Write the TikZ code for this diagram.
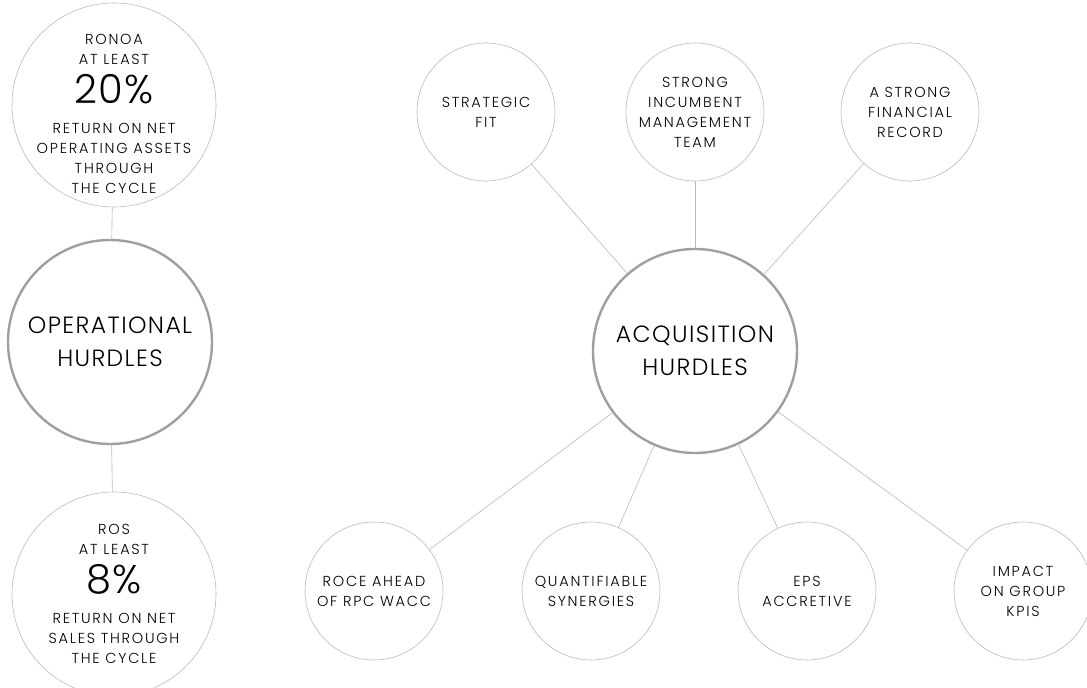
\documentclass[tikz,border=0pt]{standalone}
\usepackage{fontspec}
\setmainfont{Poppins}[UprightFont=* Light, LetterSpace=6]
\newfontfamily\smallface{Poppins}[UprightFont=* Light, LetterSpace=12]
\newfontfamily\pctface{Poppins}[UprightFont=* Light, LetterSpace=2]
\newcommand{\pct}[1]{{\pctface\fontsize{40}{44}\selectfont #1}}

\begin{document}
\begin{tikzpicture}[x=1pt,y=-1pt,
  hurdle/.style={circle,draw=gray!75,line width=2.4pt,minimum size=204pt,inner sep=0pt,align=center,font=\fontsize{23.5}{33}\selectfont},
  goal/.style={circle,draw=gray!55,line width=0.6pt,minimum size=138pt,inner sep=0pt,align=center,font=\smallface\fontsize{14.5}{20}\selectfont},
  target/.style={goal,minimum size=204pt,inner sep=-40pt},
  link/.style={draw=gray!55,line width=0.6pt}]
  \useasboundingbox (0,0) rectangle (1087,688);

  % operational side
  \node[target] (ronoa) at (114,105) {\rule{0pt}{28pt}RONOA\\AT LEAST\\[9pt]\pct{20\%}\\[10pt]RETURN ON NET\\OPERATING ASSETS\\THROUGH\\THE CYCLE};
  \node[hurdle] (ops) at (110,342) {OPERATIONAL\\HURDLES};
  \node[target] (ros) at (114,594) {ROS\\AT LEAST\\[9pt]\pct{8\%}\\[10pt]RETURN ON NET\\SALES THROUGH\\THE CYCLE};
  \draw[link] (ronoa) -- (ops);
  \draw[link] (ops) -- (ros);

  % acquisition side
  \node[hurdle] (acq) at (695,351) {ACQUISITION\\HURDLES};
  \node[goal] (fit) at (486,112) {STRATEGIC\\FIT};
  \node[goal] (team) at (695,112) {STRONG\\INCUMBENT\\MANAGEMENT\\TEAM};
  \node[goal] (record) at (910,112) {A STRONG\\FINANCIAL\\RECORD};
  \node[goal] (roce) at (374,591) {ROCE AHEAD\\OF RPC WACC};
  \node[goal] (synergy) at (591,591) {QUANTIFIABLE\\SYNERGIES};
  \node[goal] (eps) at (807,591) {EPS\\ACCRETIVE};
  \node[goal] (kpis) at (1023,591) {IMPACT\\ON GROUP\\KPIS};
  \foreach \n in {fit,team,record,roce,synergy,eps,kpis}
    \draw[link] (\n) -- (acq);
\end{tikzpicture}
\end{document}
